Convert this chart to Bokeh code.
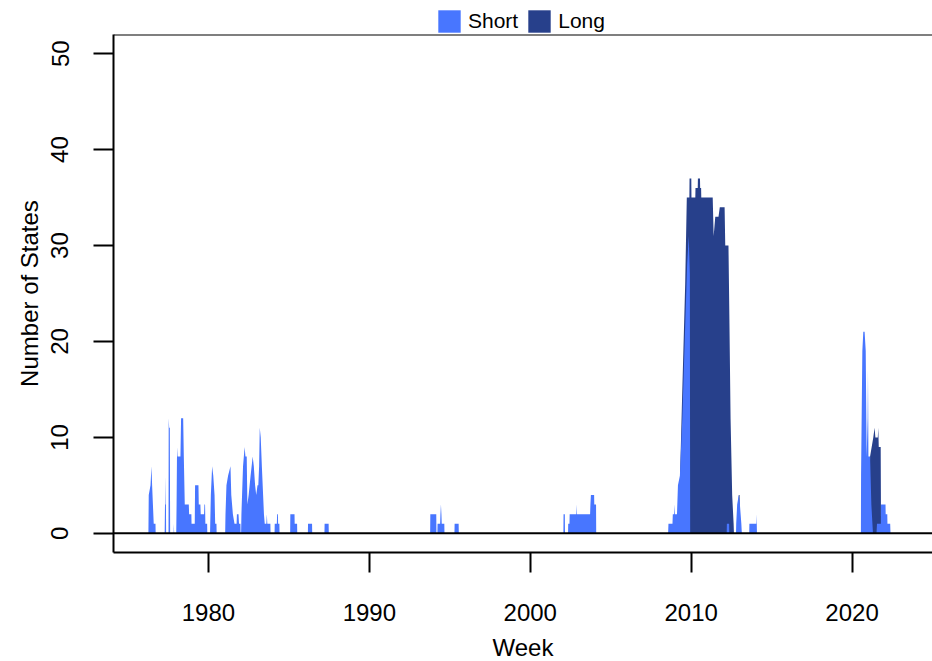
from bokeh.plotting import figure
from bokeh.layouts import column
from bokeh.models import (ColumnDataSource, Range1d, FixedTicker, Span, Legend,
                          LegendItem)
from bokeh.embed import file_html
from bokeh.resources import INLINE

# ---- data ----
short_year = [
    1976.27, 1976.29, 1976.40, 1976.46, 1976.50, 1976.55, 1976.60, 1976.71, 1976.72,
    1977.28, 1977.30, 1977.33, 1977.35, 1977.37,
    1977.52, 1977.53, 1977.56, 1977.60, 1977.62,
    1977.84, 1977.85, 1977.87,
    1978.00, 1978.02, 1978.05, 1978.08, 1978.26, 1978.30, 1978.43, 1978.47, 1978.53,
    1978.78, 1978.80, 1978.94, 1978.95, 1979.15, 1979.17, 1979.38, 1979.40, 1979.50,
    1979.52, 1979.73, 1979.75, 1979.79, 1979.81, 1979.92, 1979.93,
    1980.10, 1980.15, 1980.23, 1980.30, 1980.38, 1980.42, 1980.50, 1980.51,
    1981.04, 1981.06, 1981.12, 1981.22, 1981.37, 1981.42, 1981.52, 1981.62, 1981.75,
    1981.77, 1981.87, 1981.90, 1981.99, 1982.00,
    1982.03, 1982.05, 1982.15, 1982.25, 1982.30, 1982.38, 1982.42, 1982.50, 1982.62,
    1982.75, 1982.82, 1982.90, 1982.97, 1983.05, 1983.10, 1983.15, 1983.19, 1983.25,
    1983.32, 1983.45, 1983.50, 1983.60, 1983.63, 1983.66, 1983.85, 1983.86,
    1984.11, 1984.12, 1984.25, 1984.27, 1984.32, 1984.33, 1984.41, 1984.42,
    1985.08, 1985.09, 1985.35, 1985.36, 1985.51, 1985.52,
    1986.18, 1986.19, 1986.44, 1986.45,
    1987.21, 1987.22, 1987.47, 1987.48,
    1993.78, 1993.79, 1994.16, 1994.17,
    1994.23, 1994.24, 1994.40, 1994.42, 1994.45, 1994.48, 1994.50, 1994.66, 1994.67,
    1995.29, 1995.30, 1995.55, 1995.56,
    2002.06, 2002.07, 2002.15, 2002.16,
    2002.35, 2002.36, 2002.44, 2002.45, 2002.86, 2002.88, 2002.90, 2003.72, 2003.74,
    2003.77, 2003.97, 2003.98, 2004.09, 2004.10,
    2008.57, 2008.59, 2008.84, 2008.86, 2008.94, 2008.96, 2008.99, 2009.12, 2009.18,
    2009.30, 2009.45, 2009.60, 2009.75, 2009.85, 2009.92, 2009.94,
    2012.21, 2012.22, 2012.36, 2012.37,
    2012.79, 2012.80, 2012.86, 2012.96, 2013.03, 2013.12, 2013.15,
    2013.61, 2013.62, 2014.05, 2014.07, 2014.09,
    2020.55, 2020.56, 2020.64, 2020.70, 2020.78, 2020.85, 2020.88, 2020.91, 2020.97,
    2020.99, 2021.02, 2021.12, 2021.20, 2021.30,
    2021.52, 2021.55, 2021.79, 2021.80, 2022.08, 2022.09, 2022.19, 2022.20, 2022.37,
    2022.39,
]
short_states = [
    0, 4, 5, 7, 5, 3, 1, 1, 0,
    0, 3, 3, 6, 0,
    0, 12, 11, 11, 0,
    0, 1, 0,
    0, 3, 9, 8, 8, 12, 12, 8, 3,
    3, 2, 2, 1, 1, 5, 5, 3, 3,
    2, 2, 3, 3, 1, 1, 0,
    0, 4, 7, 6, 4, 1, 1, 0,
    0, 2, 5, 6, 7, 4, 2, 1, 1,
    2, 2, 1, 1, 0,
    0, 2, 7, 9, 8, 8, 3, 4, 6,
    8, 7, 5, 4, 5, 5, 7, 11, 10,
    7, 2, 1, 1, 2, 1, 1, 0,
    0, 1, 1, 2, 2, 1, 1, 0,
    0, 2, 2, 1, 1, 0,
    0, 1, 1, 0,
    0, 1, 1, 0,
    0, 2, 2, 0,
    0, 1, 1, 2, 3, 2, 1, 1, 0,
    0, 1, 1, 0,
    0, 2, 2, 0,
    0, 1, 1, 2, 2, 3, 2, 2, 3,
    4, 4, 3, 3, 0,
    0, 1, 1, 2, 2, 3, 2, 2, 5,
    6, 12, 20, 28, 31, 27, 0,
    0, 1, 1, 0,
    0, 1, 3, 4, 3, 1, 0,
    0, 1, 1, 2, 0,
    0, 6, 19, 21, 21, 19, 13, 8, 12,
    17, 8, 8, 3, 0,
    0, 1, 1, 3, 3, 2, 2, 1, 1,
    0,
]

long_year = [
    2009.10, 2009.25, 2009.42, 2009.63, 2009.73, 2009.89, 2009.90, 2010.01, 2010.02,
    2010.26, 2010.27, 2010.41, 2010.42, 2010.55, 2010.56, 2010.62, 2010.63, 2011.34,
    2011.40, 2011.45, 2011.50, 2011.70, 2011.78, 2012.08, 2012.12, 2012.32, 2012.38,
    2012.45, 2012.55, 2012.64, 2012.66,
    2012.90, 2012.93, 2012.96, 2013.01, 2013.04,
    2021.05, 2021.12, 2021.32, 2021.40, 2021.45, 2021.60, 2021.63, 2021.66, 2021.78,
    2021.80, 2021.82,
]
long_states = [
    0, 2, 13, 26, 35, 35, 37, 37, 35,
    35, 36, 36, 37, 37, 36, 36, 35, 35,
    31, 32, 33, 33, 34, 34, 30, 30, 22,
    12, 4, 1, 0,
    0, 3, 4, 4, 0,
    0, 8, 10, 11, 10, 10, 11, 9, 9,
    1, 0,
]

series_labels = ["Short", "Long"]
x_ticks = [1980, 1990, 2000, 2010, 2020]
y_ticks = [0, 10, 20, 30, 40, 50]

SHORT_COL = "#4876FF"
LONG_COL = "#27408B"
FONT = "Liberation Sans"
FS = "24px"

W = 932
TOP_H = 33


def bare(fig):
    fig.outline_line_color = None
    fig.background_fill_color = "white"
    fig.border_fill_color = "white"
    fig.xgrid.visible = False
    fig.ygrid.visible = False
    return fig


long_src = ColumnDataSource(dict(x=long_year, y=long_states))
short_src = ColumnDataSource(dict(x=short_year, y=short_states))

# ---- main plot (fixed frame size) ----
p = bare(figure(frame_width=819, frame_height=518, output_backend="svg",
                toolbar_location=None,
                x_range=Range1d(1974.1, 2025.0), y_range=Range1d(-2, 52),
                min_border_left=113, min_border_right=0, min_border_top=1,
                min_border_bottom=106))

r_long = p.varea(x="x", y1=0, y2="y", source=long_src, fill_color=LONG_COL)
r_short = p.varea(x="x", y1=0, y2="y", source=short_src, fill_color=SHORT_COL)

p.add_layout(Span(location=0, dimension="width", line_color="black", line_width=2))
p.add_layout(Span(location=52, dimension="width", line_color="black", line_width=2))

for ax in (p.xaxis[0], p.yaxis[0]):
    ax.axis_line_width = 2
    ax.major_tick_line_width = 2
    ax.major_tick_out = 20
    ax.major_tick_in = 0
    ax.minor_tick_out = 0
    ax.minor_tick_in = 0
    ax.major_label_text_font = FONT
    ax.major_label_text_font_size = FS
    ax.major_label_text_color = "black"
    ax.axis_label_text_font = FONT
    ax.axis_label_text_font_size = FS
    ax.axis_label_text_font_style = "normal"
    ax.axis_label_text_color = "black"

p.xaxis.ticker = FixedTicker(ticks=x_ticks)
p.yaxis.ticker = FixedTicker(ticks=y_ticks)
p.xaxis.axis_label = "Week"
p.yaxis.axis_label = "Number of States"
p.xaxis.major_label_standoff = 31
p.xaxis.axis_label_standoff = 10
p.yaxis.major_label_standoff = 25
p.yaxis.axis_label_standoff = 6
p.yaxis.major_label_orientation = "vertical"

# ---- legend strip above the plot (same sources, shows no marks) ----
top = figure(width=W, height=TOP_H, output_backend="svg", toolbar_location=None,
             x_range=Range1d(0, 1), y_range=Range1d(0, 1),
             min_border_left=113, min_border_right=0, min_border_top=0,
             min_border_bottom=0)
bare(top)
top.axis.visible = False
e_short = top.varea(x="x", y1=0, y2="y", source=short_src, fill_color=SHORT_COL)
e_long = top.varea(x="x", y1=0, y2="y", source=long_src, fill_color=LONG_COL)
legend = Legend(items=[LegendItem(label=series_labels[0], renderers=[e_short]),
                       LegendItem(label=series_labels[1], renderers=[e_long])],
                orientation="horizontal", location=(322, -2),
                glyph_width=28, glyph_height=28, label_height=22,
                label_standoff=5, spacing=7, padding=0, margin=0,
                label_text_font=FONT, label_text_font_size="21px",
                label_text_color="black",
                border_line_color=None, background_fill_alpha=0)
top.add_layout(legend, "center")

layout = column(top, p, spacing=0)
open("out.html", "w").write(file_html(layout, INLINE))
